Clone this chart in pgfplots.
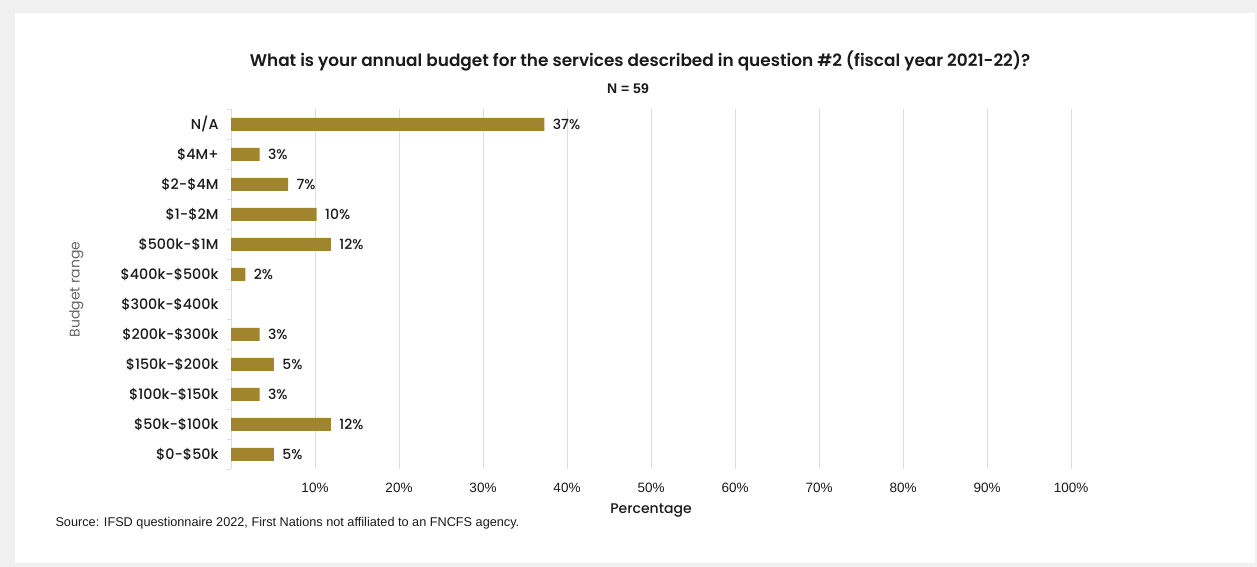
\documentclass[border=0pt]{standalone}
\usepackage{fontspec}
\setmainfont{Poppins}[BoldFont={Poppins Medium}]
\newfontfamily\psemi{Poppins SemiBold}
\newfontfamily\pmed{Poppins Medium}
\newfontfamily\lib{Liberation Sans}
\usepackage{pgfplots}
\pgfplotsset{compat=1.18}
\definecolor{barc}{HTML}{A1852E}
\definecolor{framec}{HTML}{F0F0F0}
\definecolor{gridc}{HTML}{DDDDDD}
\definecolor{txt}{HTML}{1A1A1A}
\begin{document}
\begin{tikzpicture}[x=1bp,y=1bp]
\fill[framec] (0,0) rectangle (1257,567);
\fill[white] (15,4) rectangle (1255,554);
\node[font=\psemi\fontsize{16.9bp}{19bp}\selectfont, text=txt] at (640,505.5) {What is your annual budget for the services described in question \#2 (fiscal year 2021-22)?};
\node[font=\lib\bfseries\fontsize{14bp}{16bp}\selectfont, text=txt] at (628,478) {N = 59};
\node[anchor=west, font=\lib\fontsize{12.7bp}{14bp}\selectfont, text=txt] at (52,43.5) {Source: IFSD questionnaire 2022, First Nations not affiliated to an FNCFS agency.};
\begin{axis}[
 at={(231bp,97.5bp)}, anchor=south west,
 width=840bp, height=360bp, scale only axis,
 xbar, bar width=13bp,
 xmin=0, xmax=100, ymin=-0.5, ymax=11.5, y dir=reverse,
 /pgf/number format/assume math mode=true,
 xtick={10,20,...,100},
 xticklabel={\pgfmathprintnumber{\tick}\%},
 ytick={0,...,11},
 yticklabels={N/A,\$4M+,\$2-\$4M,\$1-\$2M,\$500k-\$1M,\$400k-\$500k,\$300k-\$400k,\$200k-\$300k,\$150k-\$200k,\$100k-\$150k,\$50k-\$100k,\$0-\$50k},
 minor ytick={-0.5,0.5,...,11.5},
 axis lines*=left,
 x axis line style={draw=none},
 y axis line style={gridc, line width=0.8bp},
 xmajorgrids, major grid style={gridc, line width=0.8bp},
 major tick length=0pt, minor tick length=4bp, tick align=outside,
 minor tick style={gridc, line width=0.8bp},
 xticklabel style={font=\lib\fontsize{13.5bp}{16bp}\selectfont, text=txt, yshift=-10bp},
 yticklabel style={font=\pmed\fontsize{14.3bp}{16bp}\selectfont, text=txt, xshift=-9bp},
 xlabel={Percentage},
 xlabel style={font=\pmed\fontsize{14bp}{17bp}\selectfont, text=txt, at={(axis description cs:0.5,-0.113)}, anchor=center},
 ylabel={Budget range},
 ylabel style={font=\fontsize{14bp}{17bp}\selectfont, text=black!60, at={(axis description cs:-0.184,0.5)}, anchor=center, rotate=0},
 nodes near coords={\pgfmathprintnumber[fixed,precision=0]{\pgfplotspointmeta}\%},
 nodes near coords style={font=\pmed\fontsize{14bp}{16bp}\selectfont, text=txt, anchor=west, xshift=5bp},
]
\addplot[fill=barc, draw=none] coordinates {
 (37.3,0) (3.4,1) (6.8,2) (10.2,3) (11.9,4) (1.7,5) (3.4,7) (5.1,8) (3.4,9) (11.9,10) (5.1,11)
};
\end{axis}
\end{tikzpicture}
\end{document}
